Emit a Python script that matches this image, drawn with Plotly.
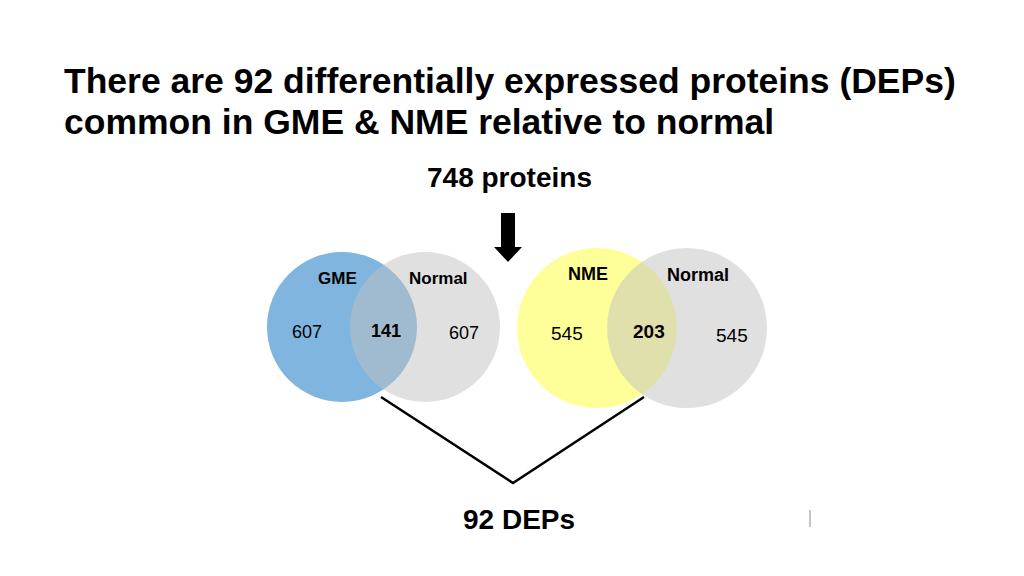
import plotly.graph_objects as go

# counts
total_proteins = 748
common_deps = 92
gme_labels = ["GME", "Normal"]
gme_counts = [607, 141, 607]      # GME only, overlap, Normal only
nme_labels = ["NME", "Normal"]
nme_counts = [545, 203, 545]

W, H = 1024, 576
OFF = 8  # page body margin, so axis units equal screen pixels
FONT = "Liberation Sans, Arial, sans-serif"

fig = go.Figure()

# circle geometry (pixel coordinates, y down)
venns = [
    dict(circles=[(342, 327, 75, "rgb(127,181,222)"), (425, 327, 75, "rgba(193,193,193,0.5)")],
         labels=gme_labels, label_pos=[(337, 278), (438, 278)],
         counts=gme_counts, count_pos=[(307, 332), (386, 331), (464, 333)], size=17),
    dict(circles=[(597, 328, 80, "rgb(255,255,153)"), (687, 328, 80, "rgba(193,193,193,0.5)")],
         labels=nme_labels, label_pos=[(588, 274), (698, 275)],
         counts=nme_counts, count_pos=[(567, 333), (649, 331), (732, 335)], size=18),
]

for v in venns:
    for cx, cy, r, col in v["circles"]:
        fig.add_shape(type="circle", xref="x", yref="y",
                      x0=cx - r, x1=cx + r, y0=cy - r, y1=cy + r,
                      fillcolor=col, line=dict(width=0), layer="below")
    for lab, (x, y) in zip(v["labels"], v["label_pos"]):
        fig.add_annotation(x=x, y=y, text="<b>%s</b>" % lab, showarrow=False,
                           font=dict(family=FONT, size=v["size"], color="black"))
    for i, (n, (x, y)) in enumerate(zip(v["counts"], v["count_pos"])):
        txt = "<b>%d</b>" % n if i == 1 else str(n)
        fig.add_annotation(x=x, y=y, text=txt, showarrow=False,
                           font=dict(family=FONT, size=v["size"] + 1, color="black"))

# down arrow
fig.add_shape(type="path", xref="x", yref="y",
              path="M 501 213 L 515 213 L 515 247 L 522 247 L 508 262 L 494 247 L 501 247 Z",
              fillcolor="black", line=dict(width=0))

# bracket joining the two overlaps
fig.add_trace(go.Scatter(x=[381, 513, 644], y=[397, 483, 397], mode="lines",
                         line=dict(color="black", width=2.5), hoverinfo="skip"))

# small stray tick at bottom right
fig.add_shape(type="line", xref="x", yref="y", x0=810, x1=810, y0=510, y1=527,
              line=dict(color="rgb(140,140,140)", width=1))

fig.add_annotation(x=62, y=81, xanchor="left", showarrow=False,
                   text="<b>There are %d differentially expressed proteins (DEPs)</b>" % common_deps,
                   font=dict(family=FONT, size=35.5, color="black"))
fig.add_annotation(x=62, y=122, xanchor="left", showarrow=False,
                   text="<b>common in GME &amp; NME relative to normal</b>",
                   font=dict(family=FONT, size=35.5, color="black"))
fig.add_annotation(x=425, y=177, xanchor="left", showarrow=False,
                   text="<b>%d proteins</b>" % total_proteins,
                   font=dict(family=FONT, size=28, color="black"))
fig.add_annotation(x=461, y=519, xanchor="left", showarrow=False,
                   text="<b>%d DEPs</b>" % common_deps,
                   font=dict(family=FONT, size=28, color="black"))

fig.update_layout(width=W, height=H, margin=dict(l=0, r=0, t=0, b=0),
                  plot_bgcolor="white", paper_bgcolor="white", showlegend=False,
                  xaxis=dict(range=[OFF, W + OFF], visible=False, fixedrange=True),
                  yaxis=dict(range=[H + OFF, OFF], visible=False, fixedrange=True))

fig.write_html("out.html")
